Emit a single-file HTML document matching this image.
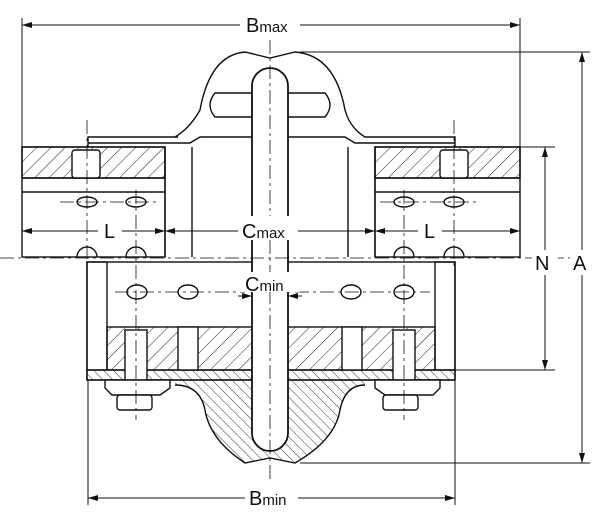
<!DOCTYPE html>
<html><head><style>
body{margin:0;background:#fff}
svg{display:block}
text{font-family:"Liberation Sans",sans-serif;fill:#111}
</style></head><body>
<svg width="600" height="518" viewBox="0 0 600 518" xmlns="http://www.w3.org/2000/svg">
<defs>
<pattern id="h" patternUnits="userSpaceOnUse" width="10" height="10" patternTransform="rotate(45)"><line x1="0" y1="0" x2="0" y2="10" stroke="#222" stroke-width="1"/></pattern>
<pattern id="h2" patternUnits="userSpaceOnUse" width="7" height="7" patternTransform="rotate(-45)"><line x1="0" y1="0" x2="0" y2="7" stroke="#222" stroke-width="0.9"/></pattern>
<marker id="a" markerWidth="10" markerHeight="6" refX="10" refY="3" orient="auto"><path d="M0,0L10,3L0,6z" fill="#111"/></marker>
<marker id="b" markerWidth="10" markerHeight="6" refX="0" refY="3" orient="auto"><path d="M10,0L0,3L10,6z" fill="#111"/></marker>
</defs>
<g stroke="#111" fill="none" stroke-width="1">
<line x1="22" y1="18" x2="22" y2="150"/><line x1="520" y1="18" x2="520" y2="150"/>
<line x1="88" y1="380" x2="88" y2="505"/><line x1="455" y1="380" x2="455" y2="505"/>
<line x1="300" y1="52" x2="590" y2="52"/><line x1="300" y1="463" x2="590" y2="463"/>
<line x1="520" y1="147" x2="555" y2="147"/><line x1="455" y1="370" x2="555" y2="370"/>
<line x1="22" y1="25" x2="240" y2="25" marker-start="url(#b)"/><line x1="300" y1="25" x2="520" y2="25" marker-end="url(#a)"/>
<line x1="88" y1="498" x2="245" y2="498" marker-start="url(#b)"/><line x1="298" y1="498" x2="455" y2="498" marker-end="url(#a)"/>
<line x1="582" y1="52" x2="582" y2="250" marker-start="url(#b)"/><line x1="582" y1="275" x2="582" y2="463" marker-end="url(#a)"/>
<line x1="545" y1="147" x2="545" y2="250" marker-start="url(#b)"/><line x1="545" y1="275" x2="545" y2="370" marker-end="url(#a)"/>
<line x1="22" y1="231" x2="100" y2="231" marker-start="url(#b)"/><line x1="122" y1="231" x2="165" y2="231" marker-end="url(#a)"/>
<line x1="165" y1="231" x2="238" y2="231" marker-start="url(#b)"/><line x1="298" y1="231" x2="375" y2="231" marker-end="url(#a)"/>
<line x1="375" y1="231" x2="420" y2="231" marker-start="url(#b)"/><line x1="442" y1="231" x2="520" y2="231" marker-end="url(#a)"/>
<line x1="238" y1="296" x2="252" y2="296" marker-end="url(#a)"/><line x1="302" y1="296" x2="288" y2="296" marker-end="url(#a)"/>
</g>
<g stroke="#111" fill="none" stroke-width="1.4">
<rect x="22" y="147" width="143" height="31" fill="url(#h)"/>
<rect x="375" y="147" width="145" height="31" fill="url(#h)"/>
<rect x="22" y="147" width="143" height="110"/><line x1="22" y1="178" x2="165" y2="178"/><line x1="22" y1="192" x2="165" y2="192"/>
<rect x="375" y="147" width="145" height="110"/><line x1="375" y1="178" x2="520" y2="178"/><line x1="375" y1="192" x2="520" y2="192"/>
<rect x="72" y="150" width="28" height="28" rx="3" fill="#fff"/><rect x="440" y="150" width="28" height="28" rx="3" fill="#fff"/>
<line x1="165" y1="147" x2="165" y2="257"/><line x1="192" y1="147" x2="192" y2="257"/>
<line x1="348" y1="147" x2="348" y2="257"/><line x1="375" y1="147" x2="375" y2="257"/>
<path d="M88,147 V137 H178 M175,137 Q190,128 200,110 Q210,55 245,52 L270,58 L295,52 Q335,55 345,110 Q350,128 365,137 H455 V147"/>
<path d="M88,143 H190 L200,137 H252 M288,137 H345 L355,143 H455"/>
<path d="M215,93 H252 V117 H215 Q205,105 215,93 Z M288,93 H325 Q335,105 325,117 H288"/>
<ellipse cx="87" cy="202" rx="10" ry="5"/><ellipse cx="136" cy="202" rx="10" ry="5"/>
<ellipse cx="404" cy="202" rx="10" ry="5"/><ellipse cx="454" cy="202" rx="10" ry="5"/>
<path d="M77,257 a10,10 0 0 1 20,0 M126,257 a10,10 0 0 1 20,0 M394,257 a10,10 0 0 1 20,0 M444,257 a10,10 0 0 1 20,0"/>
<rect x="87" y="262" width="368" height="118"/>
<rect x="87" y="262" width="20" height="108"/><rect x="435" y="262" width="20" height="108"/>
<rect x="107" y="327" width="328" height="43" fill="url(#h)"/>
<rect x="87" y="370" width="368" height="10" fill="url(#h2)"/>
<rect x="178" y="327" width="20" height="43" fill="#fff"/><rect x="342" y="327" width="20" height="43" fill="#fff"/>
<rect x="125" y="330" width="22" height="50" fill="#fff"/><rect x="393" y="330" width="22" height="50" fill="#fff"/>
<path d="M105,380 H170 V388 L160,395 H112 L105,388 Z M375,380 H440 V388 L433,395 H385 L375,388 Z" fill="#fff"/>
<rect x="117" y="395" width="35" height="15" rx="3" fill="#fff"/><rect x="383" y="395" width="35" height="15" rx="3" fill="#fff"/>
<path d="M175,385 Q200,385 205,410 Q210,440 245,463 L270,458 L295,463 Q335,440 340,410 Q345,385 365,385 L365,380 H175 Z" fill="url(#h2)" stroke="none"/>
<path d="M175,385 Q200,385 205,410 Q210,440 245,463 L270,458 L295,463 Q335,440 340,410 Q345,385 365,385"/>
<ellipse cx="137" cy="292" rx="10" ry="7"/><ellipse cx="188" cy="292" rx="10" ry="7"/>
<ellipse cx="351" cy="292" rx="10" ry="7"/><ellipse cx="404" cy="292" rx="10" ry="7"/>
<rect x="252" y="68" width="36" height="383" rx="18" fill="#fff" stroke-width="1.8"/>
</g>
<g stroke="#111" stroke-width="0.8" stroke-dasharray="14,4,3,4" fill="none">
<line x1="0" y1="258" x2="600" y2="258"/>
<line x1="270" y1="40" x2="270" y2="480"/>
<line x1="87" y1="120" x2="87" y2="270"/><line x1="136" y1="190" x2="136" y2="420"/>
<line x1="404" y1="190" x2="404" y2="420"/><line x1="454" y1="120" x2="454" y2="270"/>
<line x1="60" y1="202" x2="160" y2="202"/><line x1="380" y1="202" x2="480" y2="202"/>
<line x1="115" y1="292" x2="245" y2="292"/><line x1="295" y1="292" x2="430" y2="292"/>
</g>
<g fill="#fff">
<rect x="240" y="216" width="56" height="24"/>
<rect x="240" y="272" width="60" height="20"/>
<rect x="98" y="220" width="24" height="22"/><rect x="418" y="220" width="24" height="22"/>
<rect x="532" y="250" width="26" height="24"/><rect x="570" y="250" width="26" height="24"/>
</g>
<g font-size="20">
<text x="246" y="32">B<tspan font-size="15">max</tspan></text>
<text x="249" y="505">B<tspan font-size="15">min</tspan></text>
<text x="242" y="238">C<tspan font-size="15">max</tspan></text>
<text x="245" y="291">C<tspan font-size="15">min</tspan></text>
<text x="104" y="238">L</text><text x="424" y="238">L</text>
<text x="535" y="270">N</text><text x="573" y="270">A</text>
</g>
</svg>
</body></html>
